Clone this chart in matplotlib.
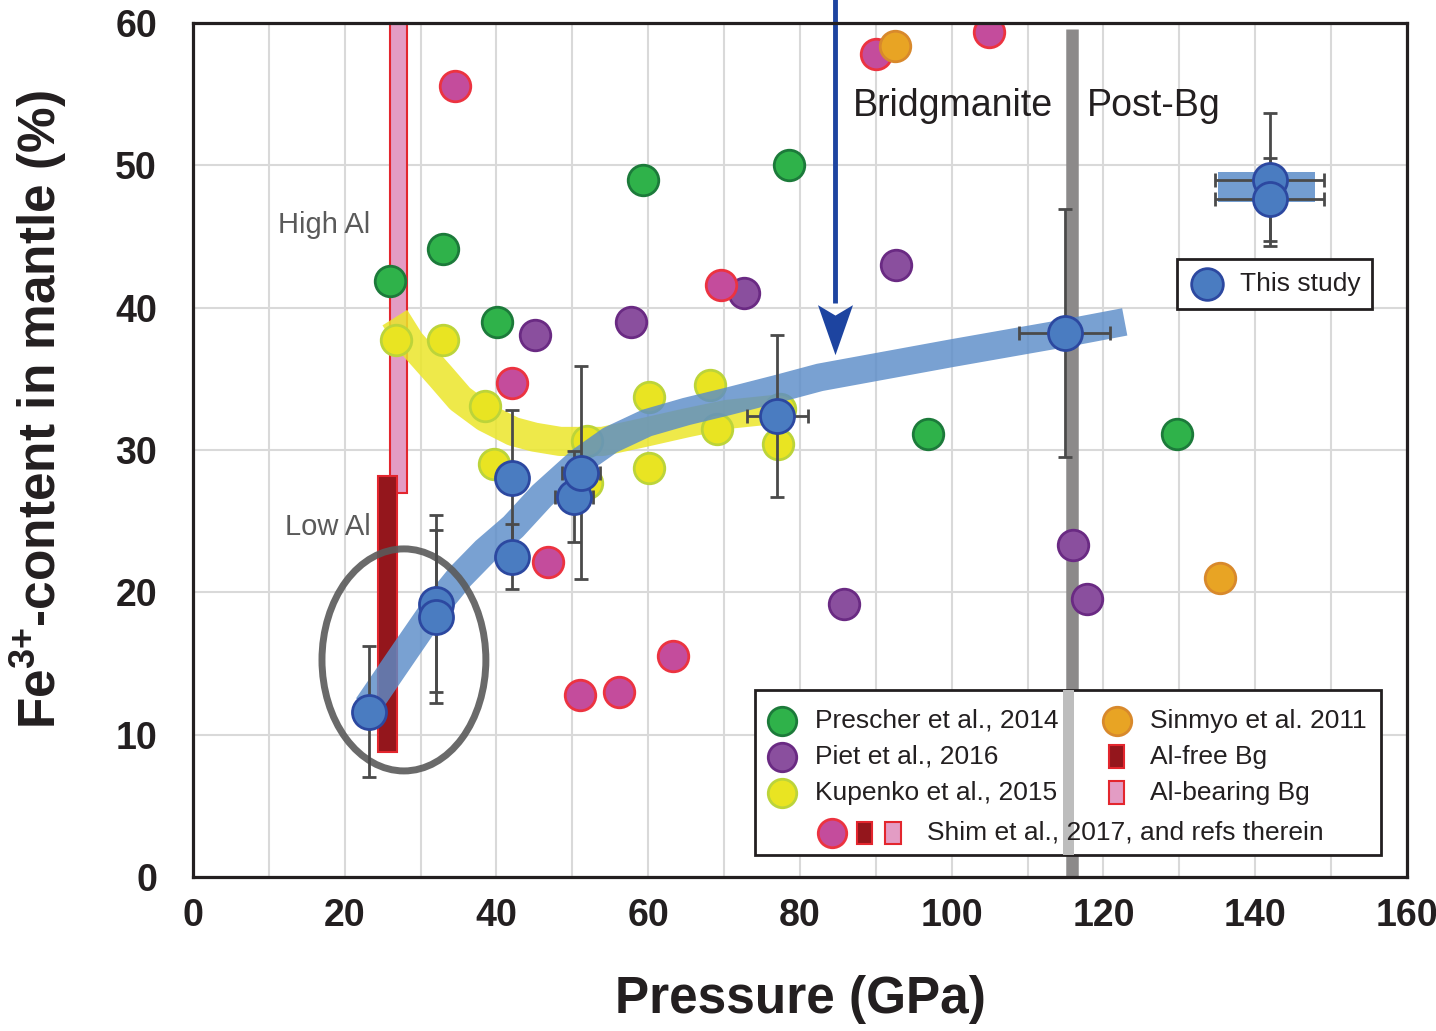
import matplotlib
matplotlib.use("Agg")
from matplotlib import pyplot as plt
import matplotlib.patches as mpatches
from matplotlib.path import Path

plt.rcParams['font.family'] = ['Liberation Sans', 'DejaVu Sans']
plt.rcParams['mathtext.fontset'] = 'custom'
plt.rcParams['mathtext.bf'] = 'Liberation Sans:bold'
plt.rcParams['mathtext.rm'] = 'Liberation Sans:bold'
plt.rcParams['mathtext.default'] = 'bf'

# ---- data ----
prescher_p = [26.0, 32.9, 40.1, 59.3, 78.5, 96.9, 129.7]
prescher_f = [41.9, 44.1, 39.0, 49.0, 50.0, 31.1, 31.1]

piet_p = [45.1, 57.7, 72.6, 92.7, 85.8, 116.0, 117.8]
piet_f = [38.1, 39.0, 41.0, 43.0, 19.2, 23.3, 19.5]

kupenko_p = [26.8, 32.9, 38.5, 39.7, 51.9, 51.9, 60.1, 60.1, 68.1, 69.1, 77.1, 77.3]
kupenko_f = [37.7, 37.7, 33.1, 29.0, 27.7, 30.6, 33.7, 28.7, 34.6, 31.5, 30.4, 32.9]

shim_p = [34.5, 42.0, 46.8, 51.0, 56.1, 63.3, 69.6, 90.0, 104.9]
shim_f = [55.6, 34.7, 22.1, 12.8, 13.0, 15.5, 41.6, 57.8, 59.4]

sinmyo_p = [92.5, 135.4]
sinmyo_f = [58.4, 21.0]

this_p = [23.2, 32.0, 32.0, 42.0, 42.0, 50.2, 51.1, 77.0, 114.9, 141.9, 141.9]
this_f = [11.6, 19.2, 18.3, 28.0, 22.5, 26.7, 28.4, 32.4, 38.2, 49.0, 47.6]
this_ferr = [4.6, 6.2, 6.1, 4.8, 2.3, 3.2, 7.5, 5.7, 8.7, 4.7, 2.9]
this_perr = [0, 0, 0, 0, 0, 2.5, 2.5, 4.0, 6.0, 7.2, 7.2]

# post-perovskite point range box
box_p = (135.1, 147.9)
box_f = (47.4, 49.5)

# Shim et al. ranges: Al-free and Al-bearing Bg
alfree_p = (24.4, 26.9)
alfree_f = (8.8, 28.2)
albear_p = (26.0, 28.2)
albear_f = (27.0, 60.0)

# trend bands
blue_band_p = [23.0, 28.0, 32.0, 35.2, 38.5, 42.2, 46.0, 51.0, 55.0, 59.8, 65.0, 70.4, 77.0, 82.6, 100.0, 114.9, 122.8]
blue_band_f = [12.0, 15.9, 19.0, 21.1, 22.9, 24.6, 26.8, 29.2, 30.7, 31.9, 32.7, 33.4, 34.3, 35.1, 36.8, 38.2, 39.0]
yellow_band_p = [26.6, 28.6, 30.6, 32.6, 35.2, 38.5, 42.2, 45.0, 48.4, 54.0, 59.2, 65.0, 70.4, 77.6]
yellow_band_f = [39.3, 37.6, 36.4, 35.2, 33.6, 32.3, 31.3, 30.9, 30.6, 30.6, 31.2, 31.9, 32.5, 32.9]

# Bg / post-Bg boundary, and the arrow
boundary_p = 115.8
arrow_p = 84.6
arrow_tip_f = 36.7

fig = plt.figure(figsize=(14.36, 10.31), dpi=100)
ax = fig.add_axes([0.1344, 0.1494, 0.8454, 0.8283])
ax.set_xlim(0, 160)
ax.set_ylim(0, 60)
ax.set_xticks(range(0, 161, 20))
ax.set_xticks(range(0, 161, 10), minor=True)
ax.set_yticks(range(0, 61, 10))
ax.grid(True, which='both', color='#d9d9d9', lw=1.5, zorder=0)
ax.set_axisbelow(True)
ax.tick_params(which='both', length=0)
ax.tick_params(axis='x', labelsize=27, pad=15)
ax.tick_params(axis='y', labelsize=27, pad=26)
for lab in ax.get_xticklabels() + ax.get_yticklabels():
    lab.set_fontweight('bold')
    lab.set_color('#231f20')
for sp in ax.spines.values():
    sp.set_linewidth(2.3)
    sp.set_color('#231f20')
    sp.set_zorder(10)

ax.set_xlabel('Pressure (GPa)', fontsize=37, fontweight='bold', color='#231f20', va='center')
ax.xaxis.set_label_coords(0.5, -0.144)
ax.set_ylabel(r'Fe$^{\mathbf{3{+}}}$-content in mantle (%)', fontsize=37, fontweight='bold',
              color='#231f20', va='center', ha='center')
ax.yaxis.set_label_coords(-0.127, 0.547)

# boundary line
ax.plot([boundary_p, boundary_p], [0, 59.6], color='#8c8a8a', lw=9, solid_capstyle='butt', zorder=1)

# Shim et al. bars
ax.bar((albear_p[0] + albear_p[1]) / 2, albear_f[1] - albear_f[0], width=albear_p[1] - albear_p[0],
       bottom=albear_f[0], color='#e39cc4', edgecolor='#e3262e', lw=1.5, zorder=2, clip_on=False)
ax.bar((alfree_p[0] + alfree_p[1]) / 2, alfree_f[1] - alfree_f[0], width=alfree_p[1] - alfree_p[0],
       bottom=alfree_f[0], color='#94161c', edgecolor='#e3262e', lw=1.5, zorder=2)

# yellow trend band
ax.plot(yellow_band_p, yellow_band_f, color='#ebe62a', alpha=0.85, lw=21,
        solid_capstyle='butt', solid_joinstyle='round', zorder=3)

mk = dict(s=484, linewidths=2, zorder=4)
ax.scatter(prescher_p, prescher_f, c='#2fb24a', edgecolors='#1c7a3a', **mk)
ax.scatter(piet_p, piet_f, c='#8a4f9e', edgecolors='#6a2a83', **mk)
ax.scatter(kupenko_p, kupenko_f, c='#e9e422', edgecolors='#bcd43a', **mk)
ax.scatter(shim_p, shim_f, c='#c44c9c', edgecolors='#ec3340', **mk)
ax.scatter(sinmyo_p, sinmyo_f, c='#e8a424', edgecolors='#d8892c', **mk)

# blue trend band
ax.plot(blue_band_p, blue_band_f, color='#5b8cc8', alpha=0.82, lw=20,
        solid_capstyle='butt', solid_joinstyle='round', zorder=5)

# range box for post-Bg points
ax.bar((box_p[0] + box_p[1]) / 2, box_f[1] - box_f[0], width=box_p[1] - box_p[0],
       bottom=box_f[0], color='#5b8cc8', alpha=0.85, zorder=5)

# low-Al ellipse
ax.add_patch(mpatches.Ellipse((27.8, 15.25), 21.6, 15.6, fill=False, edgecolor='#5a5a5a',
                              lw=5, alpha=0.9, zorder=6))

ax.errorbar(this_p, this_f, yerr=this_ferr, xerr=this_perr, fmt='none', ecolor='#4a4a4a',
            elinewidth=2, capsize=5, capthick=2, zorder=7)
ax.scatter(this_p, this_f, s=600, c='#4a7cc1', edgecolors='#2c48a0', linewidths=2, zorder=8)

# arrow: shaft plus notched head marker
ax.plot([arrow_p, arrow_p], [arrow_tip_f + 3.6, 61.7], color='#1d44a0', lw=3.5,
        solid_capstyle='butt', zorder=9, clip_on=False)
head = Path([(0, -1.0), (-0.42, 0.2), (0, -0.05), (0.42, 0.2), (0, -1.0)],
            [Path.MOVETO, Path.LINETO, Path.LINETO, Path.LINETO, Path.CLOSEPOLY])
ax.scatter([arrow_p], [arrow_tip_f + 2.9], marker=head, s=3600, c='#1d44a0',
           linewidths=0, zorder=9, clip_on=False)

ax.text(87.0, 54.2, 'Bridgmanite', fontsize=27, color='#231f20', va='center', ha='left', zorder=9)
ax.text(117.8, 54.2, 'Post-Bg', fontsize=27, color='#231f20', va='center', ha='left', zorder=9)
ax.text(11.2, 45.8, 'High Al', fontsize=21, color='#5a5a5a', va='center', ha='left')
ax.text(12.1, 24.6, 'Low Al', fontsize=21, color='#5a5a5a', va='center', ha='left')

# ---- main legend (drawn by hand) ----
T = ax.transAxes
ax.add_patch(mpatches.Rectangle((0.463, 0.0258), 0.516, 0.193, transform=T, facecolor='white',
                                edgecolor='#231f20', lw=2, zorder=11))
ax.add_patch(mpatches.Rectangle((0.7165, 0.0258), 0.0093, 0.193, transform=T, facecolor='#bdbdbd',
                                edgecolor='none', zorder=11.5))
rows = [0.1827, 0.1405, 0.0984, 0.0515]
lg = dict(s=420, linewidths=2, transform=T, zorder=12, clip_on=False)
ax.scatter([0.4852], [rows[0]], c='#2fb24a', edgecolors='#1c7a3a', **lg)
ax.scatter([0.4852], [rows[1]], c='#8a4f9e', edgecolors='#6a2a83', **lg)
ax.scatter([0.4852], [rows[2]], c='#e9e422', edgecolors='#bcd43a', **lg)
ax.scatter([0.7611], [rows[0]], c='#e8a424', edgecolors='#d8892c', **lg)
ax.scatter([0.5264], [rows[3]], c='#c44c9c', edgecolors='#ec3340', **lg)
sw, sh = 0.0124, 0.0269
for x, y, col in [(0.7611, rows[1], '#94161c'), (0.7611, rows[2], '#e39cc4'),
                  (0.5535, rows[3], '#94161c'), (0.5766, rows[3], '#e39cc4')]:
    ax.add_patch(mpatches.Rectangle((x - sw / 2, y - sh / 2), sw, sh, transform=T, facecolor=col,
                                    edgecolor='#e3262e', lw=1.5, zorder=12))
lt = dict(fontsize=19, color='#231f20', va='center', ha='left', transform=T, zorder=13)
ax.text(0.5124, rows[0], 'Prescher et al., 2014', **lt)
ax.text(0.5124, rows[1], 'Piet et al., 2016', **lt)
ax.text(0.5124, rows[2], 'Kupenko et al., 2015', **lt)
ax.text(0.7883, rows[0], 'Sinmyo et al. 2011', **lt)
ax.text(0.7883, rows[1], 'Al-free Bg', **lt)
ax.text(0.7883, rows[2], 'Al-bearing Bg', **lt)
ax.text(0.6046, rows[3], 'Shim et al., 2017, and refs therein', **lt)

# "This study" legend
ax.add_patch(mpatches.Rectangle((0.8105, 0.665), 0.1606, 0.0585, transform=T, facecolor='white',
                                edgecolor='#231f20', lw=2, zorder=11))
ax.scatter([0.8353], [0.6944], s=520, c='#4a7cc1', edgecolors='#2c48a0', linewidths=2,
           transform=T, zorder=12, clip_on=False)
ax.text(0.8624, 0.6944, 'This study', **lt)

plt.savefig('out.png', dpi=100)
